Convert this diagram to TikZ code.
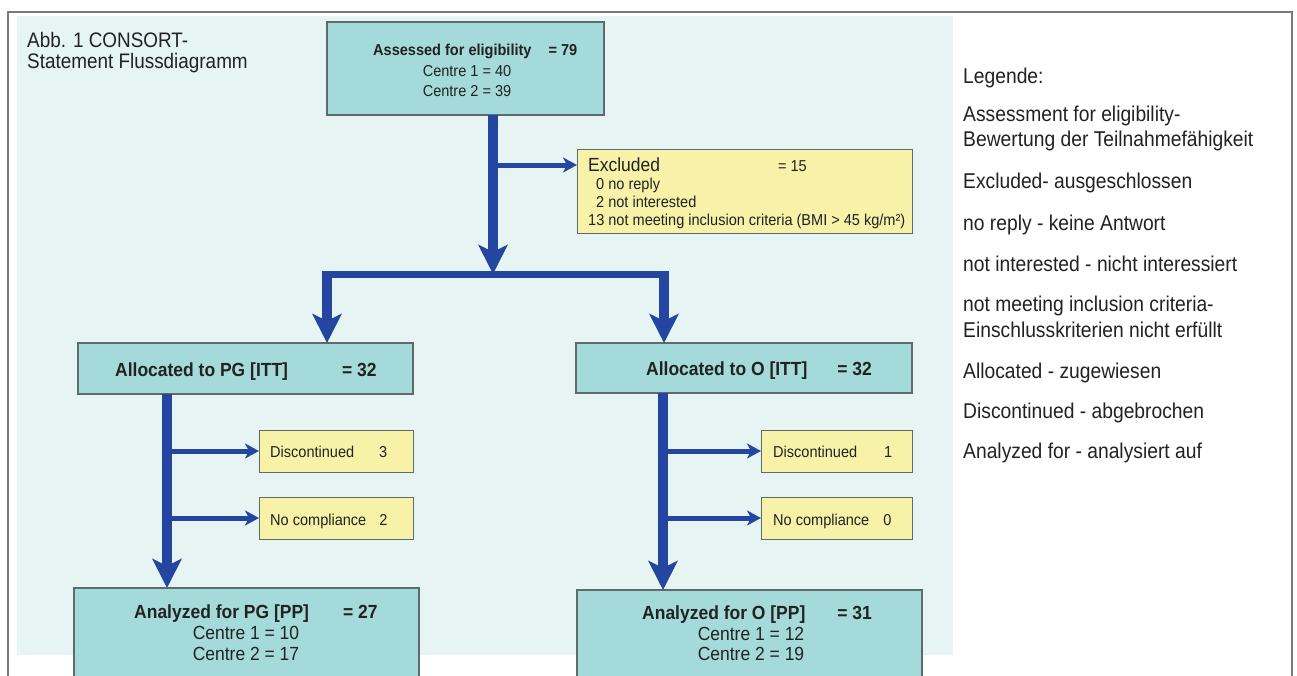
\documentclass[tikz,border=0pt]{standalone}
\usepackage{fontspec}
\setmainfont{Liberation Sans}
\newfontfamily\condfont[FakeStretch=0.9]{Liberation Sans}
\newfontfamily\boxfont[FakeStretch=0.92]{Liberation Sans}
\usetikzlibrary{arrows.meta}
\definecolor{bgcyan}{HTML}{E7F4F4}
\definecolor{tealfill}{HTML}{A5DADB}
\definecolor{yelfill}{HTML}{F8F2A8}
\definecolor{arrblue}{HTML}{2446A0}
\definecolor{boxline}{HTML}{5F6B6B}
\definecolor{frameline}{HTML}{7A7A7A}
\definecolor{txt}{HTML}{222222}
\begin{document}
\begin{tikzpicture}[x=1pt,y=-1pt,
  tealbox/.style={draw=boxline, line width=1.2pt, fill=tealfill, anchor=north west, inner sep=0pt, outer sep=0pt},
  yelbox/.style={draw=boxline, line width=1pt, fill=yelfill, anchor=north west, inner sep=0pt, outer sep=0pt},
  lbl/.style={inner sep=0pt, anchor=base west, text=txt, font=\boxfont\fontsize{15.8}{18}\selectfont},
  lblc/.style={lbl, anchor=base},
  big/.style={font=\boxfont\fontsize{19}{22}\selectfont},
  hb/.style={font=\boxfont\fontsize{15.8}{18}\selectfont\bfseries},
  bighb/.style={font=\boxfont\fontsize{19}{22}\selectfont\bfseries},
  leg/.style={inner sep=0pt, anchor=base west, text=txt, font=\condfont\fontsize{21.4}{25}\selectfont},
  ttl/.style={leg, font=\condfont\fontsize{21}{25}\selectfont},
  trunk/.style={draw=arrblue, line width=10pt, -{Stealth[length=29pt,width=29pt,inset=7pt]}},
  branch/.style={draw=arrblue, line width=5pt, -{Stealth[length=14pt,width=15pt,inset=4pt]}},
  barline/.style={draw=arrblue, line width=7pt}
]
\useasboundingbox (0,0) rectangle (1297,675);
\begin{scope}
\clip (0,0) rectangle (1297,675);
\fill[white] (0,0) rectangle (1297,675);
\fill[bgcyan] (17,16) rectangle (953,655);
\draw[frameline, line width=1.2pt] (8,680) -- (8,12) -- (1292,12) -- (1292,680);

% title
\node[ttl] (t1) at (27,47) {Abb. 1 CONSORT-};
\node[ttl] (t2) at (27,68) {Statement Flussdiagramm};

% boxes
\node[tealbox, minimum width=277pt, minimum height=93pt] (top) at (327,22) {};
\node[yelbox, minimum width=335pt, minimum height=84pt] (excl) at (577,149) {};
\node[tealbox, minimum width=335pt, minimum height=51pt] (apg) at (78,343) {};
\node[tealbox, minimum width=336pt, minimum height=50pt] (ao) at (576,343) {};
\node[yelbox, minimum width=154pt, minimum height=42pt] (dpg) at (259,430) {};
\node[yelbox, minimum width=154pt, minimum height=42pt] (npg) at (259,497) {};
\node[yelbox, minimum width=151pt, minimum height=42pt] (dO) at (761,430) {};
\node[yelbox, minimum width=151pt, minimum height=42pt] (nO) at (761,497) {};
\node[tealbox, minimum width=345pt, minimum height=130pt] (anpg) at (74,588) {};
\node[tealbox, minimum width=345pt, minimum height=130pt] (ano) at (577,590) {};

% coordinates
\coordinate (split) at (493,274);
\coordinate (tee) at (493,165);
\coordinate (barL) at (322,274);
\coordinate (barR) at (669,274);
\coordinate (dropL) at (327,274);
\coordinate (dropR) at (664,274);
\coordinate (pgx) at (167,394);
\coordinate (ox) at (663,393);

% connectors
\draw[trunk] (top.south -| split) -- (split);
\draw[branch] (tee) -- (excl.west |- tee);
\draw[barline] (barL) -- (barR);
\draw[trunk] (dropL) -- (apg.north -| dropL);
\draw[trunk] (dropR) -- (ao.north -| dropR);
\draw[trunk] (apg.south -| pgx) -- (anpg.north -| pgx);
\draw[trunk] (ao.south -| ox) -- (ano.north -| ox);
\draw[branch] (dpg.west -| pgx) -- (dpg.west);
\draw[branch] (npg.west -| pgx) -- (npg.west);
\draw[branch] (dO.west -| ox) -- (dO.west);
\draw[branch] (nO.west -| ox) -- (nO.west);

% texts
\node[lbl, hb] (topH) at (373,55) {Assessed for eligibility\hspace{17pt}= 79};
\node[lblc] (topC1) at (467,76) {Centre 1 = 40};
\node[lblc] (topC2) at (467,96) {Centre 2 = 39};

\node[lbl] (exH) at (588,171) {{\fontsize{19}{22}\selectfont Excluded}\hspace{118pt}= 15};
\node[lbl] (ex1) at (596,189) {0 no reply};
\node[lbl] (ex2) at (596,207) {2 not interested};
\node[lbl] (ex3) at (588,225) {13 not meeting inclusion criteria (BMI > 45 kg/m²)};

\node[lbl, bighb] (apgT) at (115,376) {Allocated to PG [ITT]\hspace{54pt}= 32};
\node[lbl, bighb] (aoT) at (646,375) {Allocated to O [ITT]\hspace{30pt}= 32};

\node[lbl] (dpgT) at (270,457) {Discontinued\hspace{25pt}3};
\node[lbl] (npgT) at (270,525) {No compliance\hspace{13pt}2};
\node[lbl] (dOT) at (773,457) {Discontinued\hspace{27pt}1};
\node[lbl] (nOT) at (773,525) {No compliance\hspace{14pt}0};

\node[lbl, bighb] (anpgT) at (134,618) {Analyzed for PG [PP]\hspace{34pt}= 27};
\node[lblc, big] (anpgC1) at (246,639) {Centre 1 = 10};
\node[lblc, big] (anpgC2) at (246,660) {Centre 2 = 17};
\node[lbl, bighb] (anoT) at (642,619) {Analyzed for O [PP]\hspace{32pt}= 31};
\node[lblc, big] (anoC1) at (751,640) {Centre 1 = 12};
\node[lblc, big] (anoC2) at (751,660) {Centre 2 = 19};

% legend
\node[leg] (lg0) at (963,83) {Legende:};
\node[leg] (lg1) at (963,121) {Assessment for eligibility-};
\node[leg] (lg2) at (963,146) {Bewertung der Teilnahmefähigkeit};
\node[leg] (lg3) at (963,188) {Excluded- ausgeschlossen};
\node[leg] (lg4) at (963,230) {no reply - keine Antwort};
\node[leg] (lg5) at (963,271) {not interested - nicht interessiert};
\node[leg] (lg6) at (963,311) {not meeting inclusion criteria-};
\node[leg] (lg7) at (963,337) {Einschlusskriterien nicht erfüllt};
\node[leg] (lg8) at (963,378) {Allocated - zugewiesen};
\node[leg] (lg9) at (963,418) {Discontinued - abgebrochen};
\node[leg] (lg10) at (963,458) {Analyzed for - analysiert auf};
\end{scope}
\end{tikzpicture}
\end{document}
